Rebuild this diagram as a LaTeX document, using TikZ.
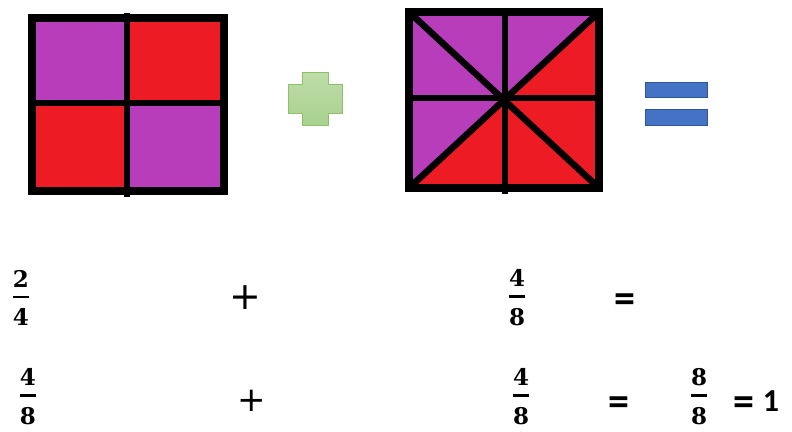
\RequirePackage{fix-cm}
\documentclass[tikz,border=0pt]{standalone}
\usepackage{amsmath}
\usepackage{fontspec}
\newfontfamily\signfont{Carlito}
\newfontfamily\digitfont{DejaVu Serif}
\newfontfamily\plusfont{DejaVu Sans}
\usetikzlibrary{positioning}
\definecolor{piecepurple}{HTML}{B83DBA}
\definecolor{piecered}{HTML}{ED1C24}
\definecolor{plusgreen}{HTML}{A9D18E}
\definecolor{plusedge}{HTML}{8CC168}
\definecolor{equalblue}{HTML}{4472C4}
\definecolor{equaledge}{HTML}{2F5597}
\newcommand{\bigfrac}[2]{$\genfrac{}{}{2.6pt}{0}{\text{\digitfont\bfseries #1}}{\rule{0pt}{20pt}\text{\digitfont\bfseries #2}}$}
\tikzset{
  boxline/.style={black, line width=8pt, line join=miter},
  cutline/.style={black, line width=6.5pt},
  fracnode/.style={font=\fontsize{23}{28}\selectfont, inner sep=0pt},
  signnode/.style={font=\plusfont\fontsize{38}{40}\selectfont, inner sep=0pt},
  boldsign/.style={font=\signfont\bfseries\fontsize{42}{44}\selectfont, inner sep=0pt},
  bigone/.style={font=\signfont\bfseries\fontsize{32}{34}\selectfont, inner sep=0pt},
  plusbar/.style={top color=plusgreen!75!white, bottom color=plusgreen, draw=plusedge, line width=1pt},
  equalbar/.style={fill=equalblue, draw=equaledge, line width=0.6pt}
}

\begin{document}
\begin{tikzpicture}[x=1pt, y=-1pt]
  \useasboundingbox (0,0) rectangle (792,431);
  % square cut in fourths
  \fill[piecepurple] (32,18) rectangle (127,103);
  \fill[piecered] (127,18) rectangle (224,103);
  \fill[piecered] (32,103) rectangle (127,191);
  \fill[piecepurple] (127,103) rectangle (224,191);
  \draw[cutline] (127,13) -- (127,197);
  \draw[cutline] (32,103) -- (224,103);
  \draw[boxline] (32,18) rectangle (224,191);
  % square cut in eighths
  \coordinate (mid) at (505,98);
  \fill[piecepurple] (409,12) -- (599,12) -- (mid) -- cycle;
  \fill[piecepurple] (409,12) -- (409,188) -- (mid) -- cycle;
  \fill[piecered] (599,12) -- (599,188) -- (mid) -- cycle;
  \fill[piecered] (409,188) -- (599,188) -- (mid) -- cycle;
  \draw[cutline] (505,12) -- (505,194);
  \draw[cutline] (409,98) -- (602,98);
  \draw[cutline] (409,12) -- (599,188);
  \draw[cutline] (599,12) -- (409,188);
  \draw[boxline] (409,12) rectangle (599,188);
  % plus and equals shapes
  \draw[plusbar] (302,72) -- (328,72) -- (328,84) -- (342,84) -- (342,113) -- (328,113)
    -- (328,125) -- (302,125) -- (302,113) -- (288,113) -- (288,84) -- (302,84) -- cycle;
  \draw[equalbar] (645,82) rectangle (707,97);
  \draw[equalbar] (645,109) rectangle (707,125);
  % first row
  \node[fracnode] (twofourths) at (21,298) {\bigfrac{2}{4}};
  \node[signnode] (plusone) at (245,298) {+};
  \node[fracnode] (fouraeighths) at (517,298) {\bigfrac{4}{8}};
  \node[boldsign] (equalone) at (625,303) {=};
  % second row
  \node[fracnode] (fourbeighths) at (28,397) {\bigfrac{4}{8}};
  \node[signnode, font=\plusfont\fontsize{34}{36}\selectfont] (plustwo) at (252,401) {+};
  \node[fracnode] (fourceighths) at (521,397) {\bigfrac{4}{8}};
  \node[boldsign] (equaltwo) at (619,406) {=};
  \node[fracnode] (eighteighths) at (699,397) {\bigfrac{8}{8}};
  \node[boldsign] (equalthree) at (744,406) {=};
  \node[bigone] (one) at (771,401) {1};
\end{tikzpicture}
\end{document}
